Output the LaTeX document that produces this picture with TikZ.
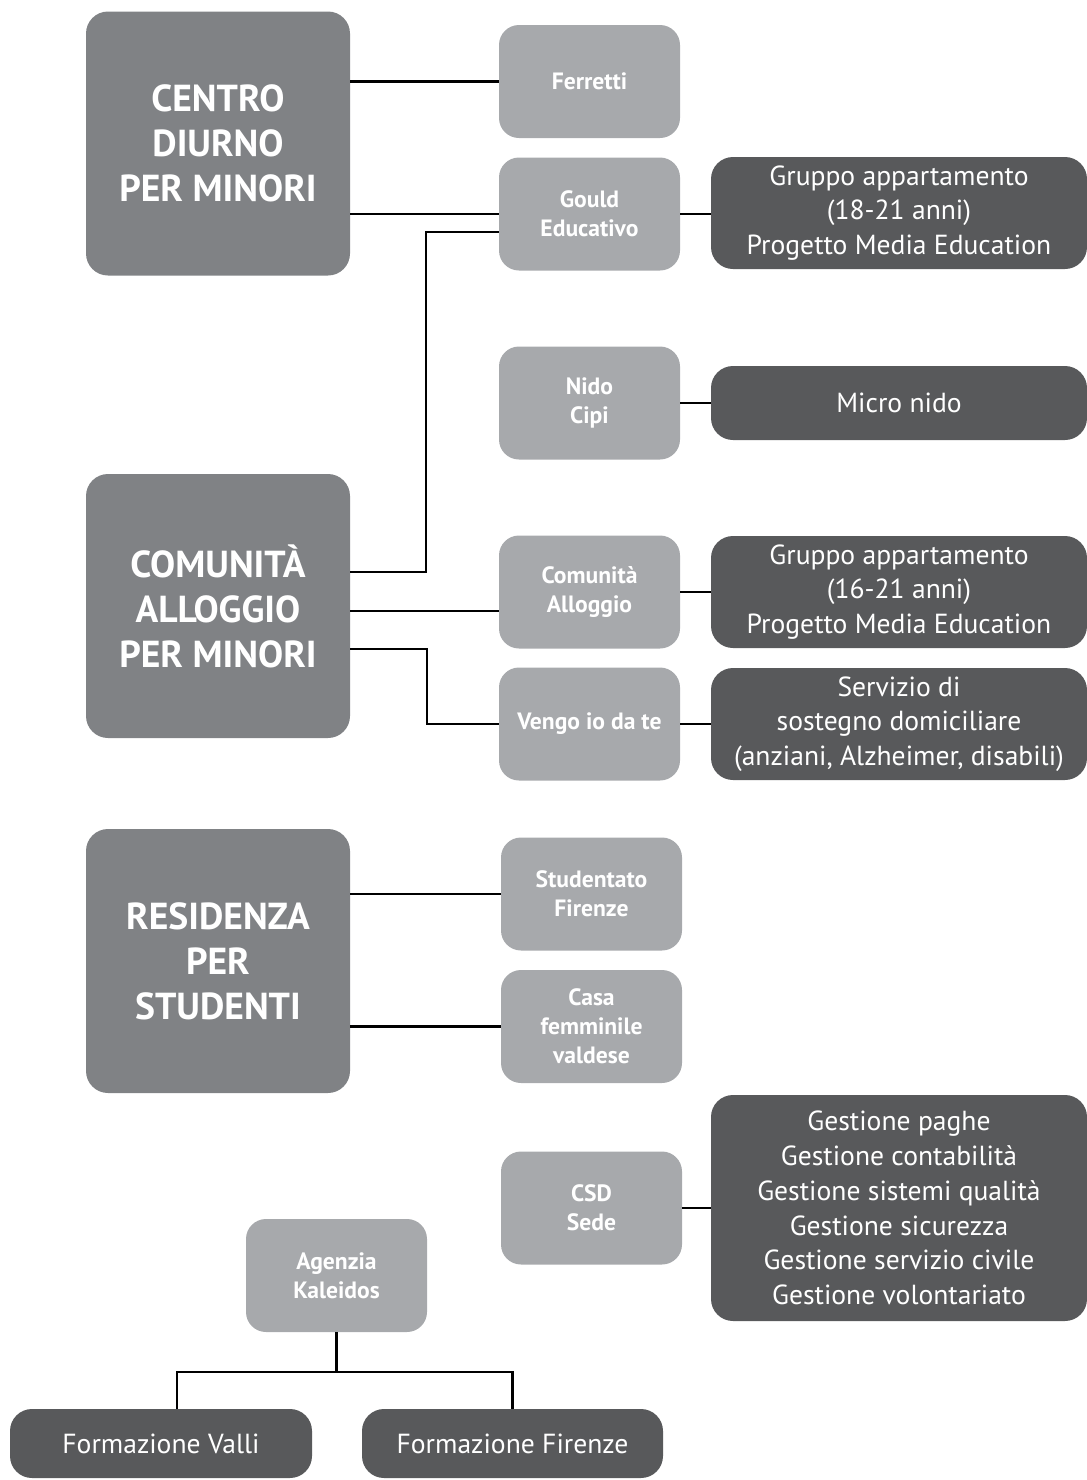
\documentclass[tikz,border=0pt]{standalone}
\usepackage{fontspec}
\setmainfont{PT Sans}
\definecolor{bigc}{HTML}{808285}
\definecolor{lightc}{HTML}{A7A9AC}
\definecolor{darkc}{HTML}{58595B}
\begin{document}
\begin{tikzpicture}[x=0.5pt,y=-0.5pt,
  box/.style={inner sep=0pt, outer sep=0pt, align=center, text=white},
  bigbox/.style={box, fill=bigc, rounded corners=11pt, minimum width=132pt, minimum height=132pt,
    font=\bfseries\fontsize{18.8}{22.5}\selectfont},
  lightbox/.style={box, fill=lightc, rounded corners=10pt, minimum width=90.5pt, minimum height=56.5pt,
    font=\bfseries\fontsize{11.8}{14.5}\selectfont},
  darkbox/.style={box, fill=darkc, rounded corners=11pt, minimum width=188pt, minimum height=56pt,
    font=\fontsize{13.8}{17.4}\selectfont},
  link/.style={draw=black, line width=1.3pt}]
\useasboundingbox (0,0) rectangle (1087,1480);

% main boxes
\node[bigbox] (c1) at (218,143.5) {CENTRO\\DIURNO\\PER MINORI};
\node[bigbox] (c2) at (218,606) {COMUNITÀ\\ALLOGGIO\\PER MINORI};
\node[bigbox] (c3) at (218,961) {RESIDENZA\\PER\\STUDENTI};

% service boxes
\node[lightbox] (fer) at (589.5,81.5) {Ferretti};
\node[lightbox] (gou) at (589.5,214) {Gould\\Educativo};
\node[lightbox] (nid) at (589.5,403) {Nido\\Cipi};
\node[lightbox] (com) at (589.5,592) {Comunità\\Alloggio};
\node[lightbox] (ven) at (589.5,724) {Vengo io da te};
\node[lightbox] (stu) at (591.5,894) {Studentato\\Firenze};
\node[lightbox] (cas) at (591.5,1026.5) {Casa\\femminile\\valdese};
\node[lightbox] (csd) at (591.5,1208) {CSD\\Sede};
\node[lightbox] (age) at (336.5,1275.5) {Agenzia\\Kaleidos};

% detail boxes
\node[darkbox] (g1) at (899,213) {Gruppo appartamento\\(18-21 anni)\\Progetto Media Education};
\node[darkbox, minimum height=37pt] (mic) at (899,403) {Micro nido};
\node[darkbox] (g2) at (899,592) {Gruppo appartamento\\(16-21 anni)\\Progetto Media Education};
\node[darkbox] (ser) at (899,724) {Servizio di\\sostegno domiciliare\\(anziani, Alzheimer, disabili)};
\node[darkbox, minimum height=113pt] (ges) at (899,1208) {Gestione paghe\\Gestione contabilità\\Gestione sistemi qualità\\Gestione sicurezza\\Gestione servizio civile\\Gestione volontariato};
\node[darkbox, minimum width=151pt, minimum height=34.5pt] (fv) at (161,1443.5) {Formazione Valli};
\node[darkbox, minimum width=150.5pt, minimum height=34.5pt] (ff) at (512.5,1443.5) {Formazione Firenze};

% connectors
\draw[link] (c1.east |- fer.west) -- (fer.west);
\draw[link] (c1.east |- gou.west) -- (gou.west);
\coordinate (gouin) at ([yshift=-9pt]gou.west);
\draw[link] ([yshift=17pt]c2.east) -| ([xshift=-36.5pt]gouin) -- (gouin);
\coordinate (comin) at ([yshift=-9.5pt]com.west);
\draw[link] (c2.east |- comin) -- (comin);
\draw[link] ([yshift=-21.5pt]c2.east) -| ([xshift=-36pt]ven.west) -- (ven.west);
\draw[link] (c3.east |- stu.west) -- (stu.west);
\draw[link] (c3.east |- cas.west) -- (cas.west);

\draw[link] (gou.east) -- (g1.west |- gou.east);
\draw[link] (nid.east) -- (mic.west |- nid.east);
\draw[link] (com.east) -- (g2.west |- com.east);
\draw[link] (ven.east) -- (ser.west |- ven.east);
\draw[link] (csd.east) -- (ges.west |- csd.east);

\coordinate (split) at ([yshift=-20pt]age.south);
\draw[link] (age.south) -- (split);
\draw[link] ([xshift=8pt]fv.north) |- (split) -| (ff.north);
\end{tikzpicture}
\end{document}
